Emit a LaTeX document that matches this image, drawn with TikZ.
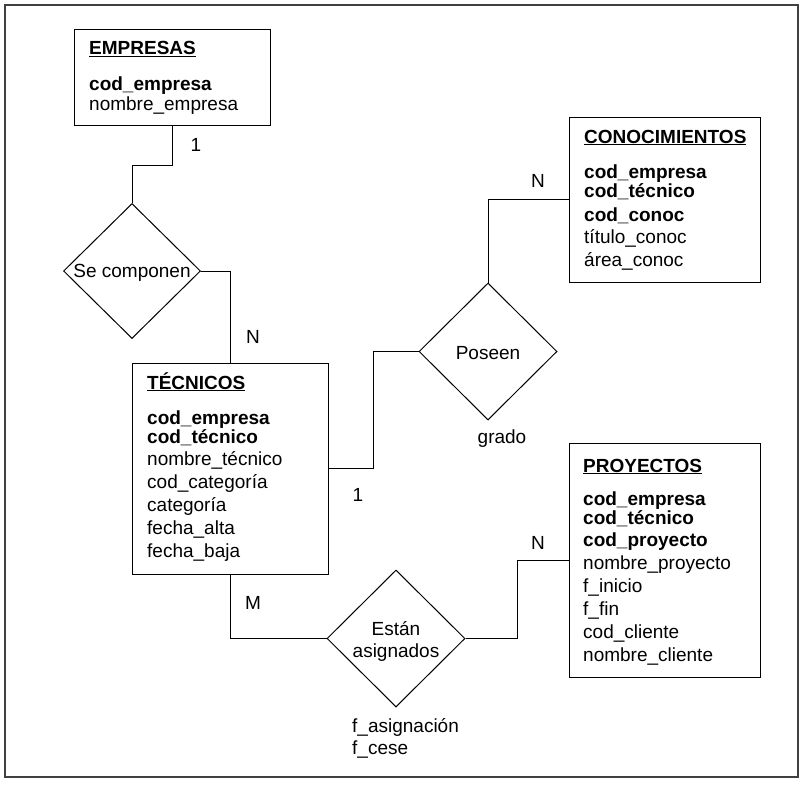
\documentclass[tikz,border=0pt]{standalone}
\usepackage{fontspec}
\setmainfont{Liberation Sans}
\usetikzlibrary{shapes.geometric,calc}
\begin{document}
\begin{tikzpicture}[x=1pt,y=-1pt,
  ent/.style={draw, rectangle, inner sep=0pt, line width=1pt},
  rel/.style={draw, diamond, inner sep=0pt, line width=1pt},
  txt/.style={anchor=base west, inner sep=0pt, font=\fontsize{19}{22}\selectfont},
  ctxt/.style={anchor=base, inner sep=0pt, font=\fontsize{19}{22}\selectfont},
  card/.style={inner sep=0pt, font=\fontsize{19}{22}\selectfont},
  conn/.style={line width=1pt}]
\useasboundingbox (0,0) rectangle (805,784);
\draw[line width=1.5pt, black!75] (5,5) rectangle (798,777);

% entities
\node[ent, minimum width=196pt, minimum height=95pt] (emp) at (172,77.5) {};
\node[ent, minimum width=191pt, minimum height=165pt] (con) at (664.5,199.5) {};
\node[ent, minimum width=196pt, minimum height=211pt] (tec) at (230,468.5) {};
\node[ent, minimum width=191pt, minimum height=234pt] (pro) at (664.5,560) {};

% EMPRESAS
\node[txt] (empT) at (89,55) {\underline{\textbf{EMPRESAS}}};
\node[txt] (emp1) at (89,90) {\textbf{cod\_empresa}};
\node[txt] (emp2) at (89,110.5) {nombre\_empresa};

% CONOCIMIENTOS
\node[txt] (conT) at (584,143) {\underline{\textbf{CONOCIMIENTOS}}};
\node[txt] (con1) at (584,178) {\textbf{cod\_empresa}};
\node[txt] (con2) at (584,197) {\textbf{cod\_técnico}};
\node[txt] (con3) at (584,221) {\textbf{cod\_conoc}};
\node[txt] (con4) at (584,243) {título\_conoc};
\node[txt] (con5) at (584,266) {área\_conoc};

% TECNICOS
\node[txt] (tecT) at (147,389) {\underline{\textbf{TÉCNICOS}}};
\node[txt] (tec1) at (147,424) {\textbf{cod\_empresa}};
\node[txt] (tec2) at (147,443) {\textbf{cod\_técnico}};
\node[txt] (tec3) at (147,465.5) {nombre\_técnico};
\node[txt] (tec4) at (147,488) {cod\_categoría};
\node[txt] (tec5) at (147,511) {categoría};
\node[txt] (tec6) at (147,534) {fecha\_alta};
\node[txt] (tec7) at (147,557) {fecha\_baja};

% PROYECTOS
\node[txt] (proT) at (583,472) {\underline{\textbf{PROYECTOS}}};
\node[txt] (pro1) at (583,505) {\textbf{cod\_empresa}};
\node[txt] (pro2) at (583,524) {\textbf{cod\_técnico}};
\node[txt] (pro3) at (583,546.5) {\textbf{cod\_proyecto}};
\node[txt] (pro4) at (583,569) {nombre\_proyecto};
\node[txt] (pro5) at (583,592) {f\_inicio};
\node[txt] (pro6) at (583,615) {f\_fin};
\node[txt] (pro7) at (583,638) {cod\_cliente};
\node[txt] (pro8) at (583,661) {nombre\_cliente};

% relationships
\node[rel, minimum width=137pt, minimum height=135pt] (sc) at (132,271) {};
\node[rel, minimum width=138pt, minimum height=137pt] (pos) at (488,351.5) {};
\node[rel, minimum width=138pt, minimum height=137pt] (ea) at (396,638.5) {};
\node[ctxt] (scT) at (132,277) {Se componen};
\node[ctxt] (posT) at (488,359) {Poseen};
\node[ctxt] (eaT1) at (396,635) {Están};
\node[ctxt] (eaT2) at (396,657) {asignados};

% attributes of relationships
\node[ctxt] (grado) at (502,443) {grado};
\node[txt] (fa) at (352,732) {f\_asignación};
\node[txt] (fc) at (352,754) {f\_cese};

% cardinalities
\node[card] (c1) at (196,145) {1};
\node[card] (c2) at (253,337) {N};
\node[card] (c3) at (538,181) {N};
\node[card] (c4) at (358,495) {1};
\node[card] (c5) at (253,603) {M};
\node[card] (c6) at (538,543) {N};

% connectors
\coordinate (k1) at ($(emp.south)+(0,40)$);
\draw[conn] (emp.south) -- (k1) -| (sc.north);
\draw[conn] (sc.east) -| (tec.north);
\coordinate (k2) at ($(tec.east)+(45,0)$);
\draw[conn] (tec.east) -- (k2) |- (pos.west);
\draw[conn] (pos.north) |- (con.west);
\draw[conn] (tec.south) |- (ea.west);
\coordinate (k3) at ($(ea.east)+(52,0)$);
\draw[conn] (ea.east) -- (k3) |- (pro.west);
\end{tikzpicture}
\end{document}
